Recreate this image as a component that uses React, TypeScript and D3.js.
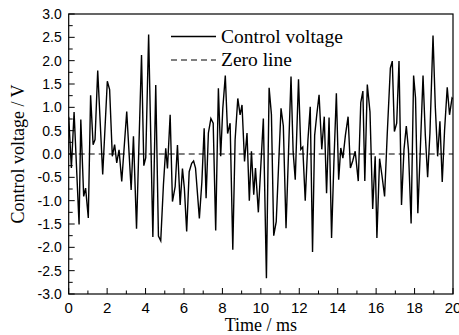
import React from "react";
import * as d3 from "d3";

const times: number[] = [
  0.0, 0.14, 0.28, 0.54, 0.63, 0.78, 0.88, 1.02, 1.14, 1.27, 1.37, 1.51, 1.77, 2.01, 2.13, 2.27, 2.39, 2.5, 2.62, 2.76,
  3.02, 3.25, 3.37, 3.53, 3.79, 3.91, 4.01, 4.16, 4.38, 4.53, 4.67, 4.79, 4.93, 5.05, 5.14, 5.28, 5.4, 5.54, 5.66, 5.8,
  5.92, 6.02, 6.14, 6.27, 6.4, 6.5, 6.6, 6.8, 6.93, 7.05, 7.15, 7.27, 7.4, 7.52, 7.65, 7.79, 7.91, 8.02, 8.15, 8.27,
  8.4, 8.54, 8.66, 8.8, 8.92, 9.02, 9.15, 9.28, 9.4, 9.51, 9.63, 9.72, 9.87, 10.13, 10.29, 10.43, 10.55, 10.67, 10.8, 11.05,
  11.17, 11.31, 11.57, 11.68, 11.79, 11.96, 12.08, 12.18, 12.31, 12.45, 12.57, 12.69, 12.8, 12.91, 13.03, 13.17, 13.3, 13.42, 13.55, 13.68,
  13.8, 13.93, 14.05, 14.16, 14.27, 14.4, 14.54, 14.66, 14.78, 14.91, 15.07, 15.2, 15.31, 15.41, 15.54, 15.68, 15.82, 15.95, 16.04, 16.18,
  16.3, 16.44, 16.58, 16.74, 16.84, 16.95, 17.07, 17.19, 17.32, 17.45, 17.57, 17.68, 17.82, 17.95, 18.05, 18.17, 18.3, 18.44, 18.56, 18.68,
  18.8, 18.96, 19.08, 19.2, 19.32, 19.44, 19.56, 19.7, 19.82, 19.95, 20.0,
];

const voltages: number[] = [
  0.8, -0.3, 0.9, -1.51, 0.74, -0.91, -0.73, -1.37, 1.26, 0.2, 0.31, 1.79, -0.44, 1.56, 1.38, -0.05, 0.2, -0.19, 0.09, -0.59,
  0.91, -0.77, 0.38, -1.6, 2.12, -0.25, -0.08, 2.56, -1.78, 1.48, -1.76, -1.86, -0.66, 0.12, -0.31, 0.84, -1.02, -0.7, 0.19, -1.09,
  -0.31, -0.74, -1.66, -0.38, -0.2, -0.15, -0.3, -1.38, -0.6, 0.55, -0.95, 0.45, 0.76, 0.66, -1.64, 1.41, -0.05, 0.98, 1.68, 0.44,
  0.66, -2.05, 0.3, 1.19, 0.84, 1.05, -0.16, 0.45, -1.0, 0.06, -0.87, -0.3, -1.25, 0.76, -2.66, 1.42, 0.85, -1.75, -1.45, 0.98,
  0.6, -1.59, 1.66, 0.05, -0.55, 1.6, 0.1, 0.15, -1.0, 0.3, 1.01, -2.1, 0.4, 0.84, 1.27, 0.1, 0.8, -0.84, 0.78, -1.8,
  -0.2, 1.3, -0.55, 0.13, -0.09, 0.4, 0.8, -0.3, -0.15, 0.06, -0.58, 1.1, 1.35, -0.58, 1.49, 0.9, -1.18, -0.05, -1.8, -0.1,
  -0.45, -0.91, 0.45, 1.84, 1.99, 0.48, 0.66, 1.99, -1.09, 0.1, 0.6, 0.1, -1.49, 1.68, 1.2, -1.27, 0.1, 1.68, 0.4, -0.5,
  0.45, 2.54, 1.0, -0.05, 0.7, -0.6, 0.5, 1.43, 0.84, 1.2, 1.18,
];

const xTickValues: number[] = [0, 2, 4, 6, 8, 10, 12, 14, 16, 18, 20];
const yTickValues: number[] = [-3, -2.5, -2, -1.5, -1, -0.5, 0, 0.5, 1, 1.5, 2, 2.5, 3];
const legendLabels: string[] = ["Control voltage", "Zero line"];
const xTitle = "Time / ms";
const yTitle = "Control voltage / V";

const W = 459;
const H = 335;
const M = { left: 68.7, right: 453, top: 14, bottom: 294 };

export default function App() {
  const x = d3.scaleLinear().domain([0, 20]).range([M.left, M.right]);
  const y = d3.scaleLinear().domain([-3, 3]).range([M.bottom, M.top]);
  const data = times.map((t, i) => [t, voltages[i]] as [number, number]);
  const line = d3
    .line<[number, number]>()
    .x((d) => x(d[0]))
    .y((d) => y(d[1]));

  const xMinor = d3.range(0, 21, 1);
  const yMinor = d3.range(-3, 3.001, 0.25);
  const sans = "'Liberation Sans', Arial, sans-serif";
  const serif = "'Liberation Serif', 'Times New Roman', serif";

  return (
    <svg
      width={W}
      height={H}
      style={{ position: "absolute", left: 0, top: 0, background: "#fff" }}
    >
      <defs>
        <clipPath id="plotclip">
          <rect x={M.left} y={M.top} width={M.right - M.left} height={M.bottom - M.top} />
        </clipPath>
      </defs>
      <line
        x1={x(0)}
        x2={x(20)}
        y1={y(0)}
        y2={y(0)}
        stroke="#000"
        strokeWidth={1.1}
        strokeDasharray="6,4"
      />
      <path
        d={line(data) || ""}
        fill="none"
        stroke="#000"
        strokeWidth={1.4}
        strokeLinejoin="miter"
        clipPath="url(#plotclip)"
      />
      <rect
        x={M.left}
        y={M.top}
        width={M.right - M.left}
        height={M.bottom - M.top}
        fill="none"
        stroke="#000"
        strokeWidth={1.2}
      />
      {xMinor.map((v) => (
        <line
          key={"xt" + v}
          x1={x(v)}
          x2={x(v)}
          y1={M.bottom}
          y2={M.bottom - (v % 2 === 0 ? 6 : 3.5)}
          stroke="#000"
          strokeWidth={1}
        />
      ))}
      {xTickValues.map((v) => (
        <text
          key={"xl" + v}
          x={x(v)}
          y={M.bottom + 19}
          textAnchor="middle"
          fontFamily={sans}
          fontSize={15}
          fill="#000"
        >
          {v}
        </text>
      ))}
      {yMinor.map((v, i) => (
        <line
          key={"yt" + i}
          x1={M.left}
          x2={M.left + (i % 2 === 0 ? 6 : 4)}
          y1={y(v)}
          y2={y(v)}
          stroke="#000"
          strokeWidth={1}
        />
      ))}
      {yTickValues.map((v) => (
        <text
          key={"yl" + v}
          x={M.left - 7}
          y={y(v)}
          dy="0.36em"
          textAnchor="end"
          fontFamily={sans}
          fontSize={14}
          fill="#000"
        >
          {v.toFixed(1)}
        </text>
      ))}
      <text
        x={(M.left + M.right) / 2}
        y={331}
        textAnchor="middle"
        fontFamily={serif}
        fontSize={18}
        fill="#000"
      >
        {xTitle}
      </text>
      <text
        transform={`translate(24,${(M.top + M.bottom) / 2}) rotate(-90)`}
        textAnchor="middle"
        fontFamily={serif}
        fontSize={18}
        fill="#000"
      >
        {yTitle}
      </text>
      <line x1={171} x2={216} y1={36.5} y2={36.5} stroke="#000" strokeWidth={1.4} />
      <text x={221} y={36.5} dy="0.33em" fontFamily={serif} fontSize={19.5} fill="#000">
        {legendLabels[0]}
      </text>
      <line
        x1={171}
        x2={216}
        y1={60}
        y2={60}
        stroke="#000"
        strokeWidth={1.1}
        strokeDasharray="6,4"
      />
      <text x={221} y={60} dy="0.33em" fontFamily={serif} fontSize={19.5} fill="#000">
        {legendLabels[1]}
      </text>
    </svg>
  );
}
